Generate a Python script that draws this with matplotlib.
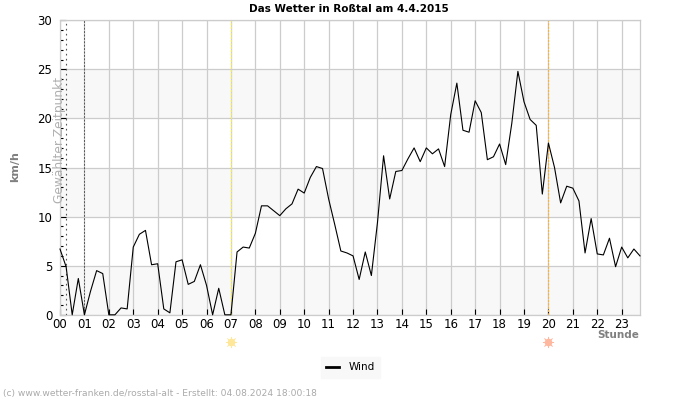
import matplotlib
matplotlib.use("Agg")
import matplotlib.pyplot as plt
from matplotlib.ticker import MultipleLocator

# Windgeschwindigkeit alle 15 Minuten, von 00:00 bis 23:45
wind = [6.7, 4.9, 0.0, 3.7, 0.0, 2.4, 4.5, 4.2,
        0.0, 0.0, 0.7, 0.6, 6.9, 8.2, 8.6, 5.1,
        5.2, 0.6, 0.2, 5.4, 5.6, 3.1, 3.4, 5.1,
        3.0, 0.0, 2.7, 0.0, 0.0, 6.4, 6.9, 6.8,
        8.3, 11.1, 11.1, 10.6, 10.1, 10.8, 11.3, 12.8,
        12.4, 14.0, 15.1, 14.9, 11.8, 9.2, 6.5, 6.3,
        6.0, 3.6, 6.4, 4.0, 9.4, 16.2, 11.8, 14.6,
        14.7, 15.9, 17.0, 15.6, 17.0, 16.4, 16.9, 15.1,
        20.4, 23.6, 18.8, 18.6, 21.8, 20.6, 15.8, 16.1,
        17.4, 15.3, 19.5, 24.8, 21.7, 19.9, 19.3, 12.3,
        17.5, 15.0, 11.4, 13.1, 12.9, 11.6, 6.3, 9.8,
        6.2, 6.1, 7.8, 4.9, 6.9, 5.8, 6.7, 6.0]
stunden = [i * 0.25 for i in range(len(wind))]
stunden_labels = ["%02d" % h for h in range(24)]
y_ticks = [0, 5, 10, 15, 20, 25, 30]
baender = [(0, 5), (10, 15), (20, 25)]
sonnenaufgang = 7
sonnenuntergang = 20
zeitpunkt = 0.25
mitternacht_linie = 1

fig = plt.figure(figsize=(7, 4), dpi=100)
ax = fig.add_axes([60 / 700, 1 - 314.8 / 400, 580 / 700, 294.5 / 400])

for lo, hi in baender:
    ax.axhspan(lo, hi, color="#f8f8f8", lw=0, zorder=0)

ax.grid(True, color="#cccccc", lw=0.9, zorder=1)
ax.set_axisbelow(True)

ax.axvline(zeitpunkt, color="#555555", lw=0.8, ls=(0, (1.5, 3)), zorder=2)
ax.axvline(mitternacht_linie, color="#555555", lw=0.7, ls=(0, (2, 1.5)), zorder=2)
ax.axvline(sonnenaufgang, color="#f5ec50", lw=0.8, ls=(0, (2, 1)), zorder=2)
ax.axvline(sonnenuntergang, color="#ffb030", lw=0.8, ls=(0, (2, 1)), zorder=2)

ax.plot(stunden, wind, color="black", lw=0.8, zorder=4, label="Wind", clip_on=False)

ax.set_xlim(0, 23.75)
ax.set_ylim(0, 30)
ax.set_xticks(range(24))
ax.set_xticklabels(stunden_labels)
ax.set_yticks(y_ticks)
ax.yaxis.set_minor_locator(MultipleLocator(1))
ax.tick_params(axis="x", direction="in", length=4, width=0.8, color="black",
               labelsize=8.5, pad=2.5)
ax.tick_params(axis="y", direction="in", length=4, width=0.8, color="black",
               labelsize=8.5, pad=5.5)
ax.tick_params(axis="y", which="minor", direction="in", length=2.5, width=0.8, color="black")
for s in ax.spines.values():
    s.set_color("#cccccc")
    s.set_linewidth(0.9)

fig.text(249 / 700, 1 - 8.5 / 400, "Das Wetter in Roßtal am 4.4.2015", fontsize=7.5,
         fontweight="bold", ha="left", va="center")
fig.text(15.5 / 700, 1 - 167 / 400, "km/h", fontsize=8, fontweight="bold", color="#808080",
         rotation=90, ha="center", va="center")
fig.text(59 / 700, 1 - 139.5 / 400, "Gewählter Zeitpunkt", fontsize=8.8, color="#b0b0b0",
         rotation=90, ha="center", va="center", zorder=5)
fig.text(639 / 700, 1 - 334.5 / 400, "Stunde", fontsize=7.5, fontweight="bold", color="#808080",
         ha="right", va="center")
fig.text(3 / 700, 1 - 393.5 / 400, "(c) www.wetter-franken.de/rosstal-alt - Erstellt: 04.08.2024 18:00:18",
         fontsize=6.6, color="#aaaaaa", ha="left", va="center")

# Sonnensymbole unter der Achse
for stunde, farbe in [(sonnenaufgang, "#ffe79a"), (sonnenuntergang, "#ffb8a0")]:
    ax.plot([stunde], [-2.75], marker="o", ms=5.5, color=farbe, mew=0, clip_on=False, zorder=5)
    ax.plot([stunde], [-2.75], marker=(8, 2, 0), ms=8, color=farbe, mew=0.5, clip_on=False, zorder=5)

leg = ax.legend(handles=ax.get_lines()[4:5], loc="center",
                bbox_to_anchor=(350.5 / 700, 1 - 367.5 / 400),
                bbox_transform=fig.transFigure, frameon=True, fontsize=7.5,
                handlelength=1.2, handletextpad=0.9, borderpad=0.55,
                fancybox=False, facecolor="#f8f8f8", edgecolor="#f8f8f8", framealpha=1)
for line in leg.get_lines():
    line.set_linewidth(2)

fig.savefig("out.png", dpi=100)
